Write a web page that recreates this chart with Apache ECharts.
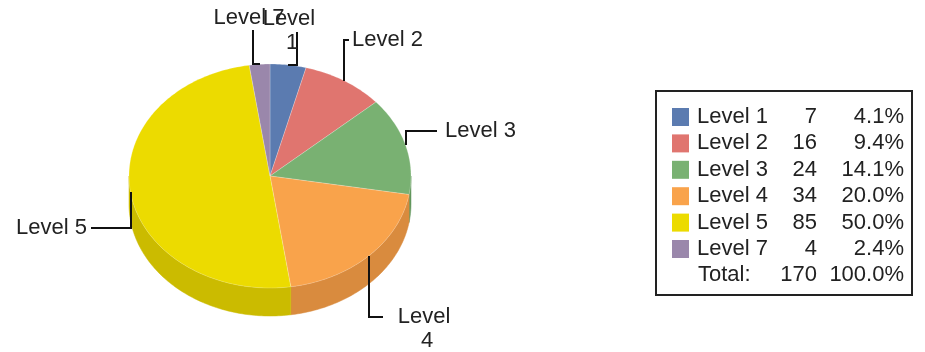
<!DOCTYPE html>
<html>
<head>
<meta charset="utf-8">
<script src="https://cdn.jsdelivr.net/npm/echarts@6/dist/echarts.min.js"></script>
<style>
  html, body { margin: 0; padding: 0; background: #ffffff; }
  #chart { width: 925px; height: 352px; }
</style>
</head>
<body>
<div id="chart"></div>
<script>
// Level distribution
const categories = ['Level 1', 'Level 2', 'Level 3', 'Level 4', 'Level 5', 'Level 7'];
const counts = [7, 16, 24, 34, 85, 4];
const totalLabel = 'Total:';

// Styling
const topColors  = ['#5b7bb0', '#e0756f', '#79b172', '#f9a34b', '#ecdb00', '#9a87ab'];
const sideColors = ['#4a6595', '#c05f5a', '#62965c', '#d98b3e', '#cbbb00', '#7f6e8f'];
const FONT = '22px "Liberation Sans", Arial, sans-serif';
const TEXT = '#222222';

// Tilted pie geometry (ellipse + wall depth)
const PIE = { cx: 270, cy: 176, rx: 141, ry: 112, depth: 28 };

// Label leader layout per slice: line legs (relative), then text placement relative to line end
const labelLayout = [
  { legs: [[9, 0], [0, -33]],  tx: -5, ty: -25, align: 'center', va: 'top',    width: 60 },
  { legs: [[0, -41], [5, 0]],  tx: 3,  ty: 0,   align: 'left',   va: 'middle' },
  { legs: [[0, -14], [31, 0]], tx: 8,  ty: 0,   align: 'left',   va: 'middle' },
  { legs: [[0, 61], [14, 0]],  tx: 41, ty: -12, align: 'center', va: 'top',    width: 58 },
  { legs: [[0, 36], [-40, 0]], tx: -4, ty: 0,   align: 'right',  va: 'middle' },
  { legs: [[-7, 0], [0, -34]], tx: -4, ty: -12, align: 'center', va: 'middle' }
];

const total = counts.reduce((a, b) => a + b, 0);
const percents = counts.map(v => (v / total * 100).toFixed(1) + '%');

// angular layout, clockwise from 12 o'clock
const starts = [];
let acc = 0;
counts.forEach(v => { starts.push(acc / total * Math.PI * 2); acc += v; });

function pt(theta, dy) {
  return [PIE.cx + PIE.rx * Math.sin(theta), PIE.cy - PIE.ry * Math.cos(theta) + (dy || 0)];
}
function arc(a, b, dy) {
  const pts = [];
  const n = Math.max(2, Math.ceil((b - a) / (Math.PI / 180)));
  for (let k = 0; k <= n; k++) pts.push(pt(a + (b - a) * k / n, dy));
  return pts;
}

function renderSlice(params, api) {
  const i = params.dataIndex;
  const a1 = starts[i];
  const a2 = a1 + api.value(0) / total * Math.PI * 2;
  const children = [];
  // front wall: visible between 3 o'clock and 9 o'clock
  const s = Math.max(a1, Math.PI / 2), e = Math.min(a2, Math.PI * 1.5);
  if (e > s) {
    const pts = arc(s, e, 0).concat(arc(s, e, PIE.depth).reverse());
    children.push({ type: 'polygon', shape: { points: pts },
      style: { fill: sideColors[i], stroke: sideColors[i], lineWidth: 0.5 } });
  }
  const top = [[PIE.cx, PIE.cy]].concat(arc(a1, a2, 0));
  children.push({ type: 'polygon', shape: { points: top },
    style: { fill: topColors[i], stroke: 'rgba(255,255,255,0.35)', lineWidth: 0.6 } });
  return { type: 'group', children };
}

function renderLabel(params, api) {
  const i = params.dataIndex;
  const a1 = starts[i];
  const mid = a1 + api.value(0) / total * Math.PI;
  const p0 = pt(mid, 0).map(Math.round);
  const L = labelLayout[i];
  const pts = [p0];
  let cur = p0;
  L.legs.forEach(([dx, dy]) => { cur = [cur[0] + dx, cur[1] + dy]; pts.push(cur); });
  const style = {
    text: categories[i], font: FONT, fill: TEXT,
    align: L.align, verticalAlign: L.va, lineHeight: 24
  };
  if (L.width) { style.width = L.width; style.overflow = 'break'; }
  return {
    type: 'group',
    children: [
      { type: 'polyline', shape: { points: pts }, style: { stroke: '#111', lineWidth: 2, fill: null } },
      { type: 'text', x: cur[0] + L.tx, y: cur[1] + L.ty, style }
    ]
  };
}

// Summary table
const table = { x: 656, y: 91, w: 256, h: 204, row0: 117, rowH: 26.4,
  swatchX: 672, nameX: 697, valueX: 817, pctX: 904 };
const tableEls = [{
  type: 'rect', shape: { x: table.x, y: table.y, width: table.w, height: table.h },
  style: { fill: '#fff', stroke: '#222', lineWidth: 2 }
}];
function cell(text, x, y, align) {
  return { type: 'text', x, y, style: { text, font: FONT, fill: TEXT, align, verticalAlign: 'middle' } };
}
categories.forEach((name, i) => {
  const y = table.row0 + i * table.rowH;
  tableEls.push({ type: 'rect', shape: { x: table.swatchX, y: y - 9, width: 17, height: 18 },
    style: { fill: topColors[i] } });
  tableEls.push(cell(name, table.nameX, y, 'left'));
  tableEls.push(cell(String(counts[i]), table.valueX, y, 'right'));
  tableEls.push(cell(percents[i], table.pctX, y, 'right'));
});
const ty = table.row0 + categories.length * table.rowH;
tableEls.push(cell(totalLabel, table.nameX + 1, ty, 'left'));
tableEls.push(cell(String(total), table.valueX, ty, 'right'));
tableEls.push(cell((100).toFixed(1) + '%', table.pctX, ty, 'right'));

const chart = echarts.init(document.getElementById('chart'), null, { renderer: 'canvas' });
chart.setOption({
  animation: false,
  backgroundColor: '#ffffff',
  graphic: tableEls,
  series: [
    { type: 'custom', coordinateSystem: 'none', renderItem: renderSlice,
      data: counts.map(v => [v]), z: 1, silent: true },
    { type: 'custom', coordinateSystem: 'none', renderItem: renderLabel,
      data: counts.map(v => [v]), z: 3, silent: true }
  ]
});
</script>
</body>
</html>
